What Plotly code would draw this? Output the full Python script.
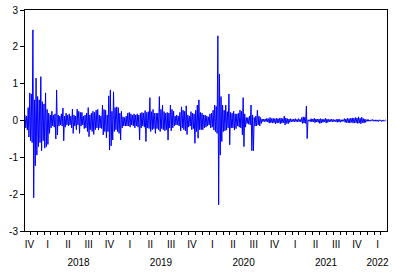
import pandas as pd
import plotly.graph_objects as go

# Weekly envelope: upper and lower swing of each week
week_start = "2017-11-06"
hi = [0.15,0.12,0.35,0.75,0.72,2.46,0.56,1.15,0.65,0.56,
      1.19,0.51,0.45,0.75,0.3,0.2,0.15,0.25,0.15,0.18,
      0.83,0.15,0.12,0.18,0.34,0.12,0.2,0.15,0.18,0.12,
      0.31,0.15,0.12,0.31,0.25,0.22,0.22,0.12,0.15,0.2,
      0.35,0.15,0.2,0.25,0.22,0.28,0.3,0.15,0.12,0.42,
      0.3,0.28,0.15,0.67,0.83,0.25,0.78,0.35,0.37,0.35,
      0.2,0.25,0.1,0.08,0.12,0.2,0.22,0.18,0.15,0.18,
      0.15,0.18,0.15,0.2,0.22,0.2,0.27,0.22,0.24,0.62,
      0.24,0.3,0.2,0.2,0.2,0.65,0.3,0.42,0.24,0.2,
      0.22,0.2,0.42,0.3,0.25,0.12,0.15,0.12,0.22,0.37,
      0.28,0.25,0.4,0.15,0.12,0.24,0.2,0.18,0.28,0.42,
      0.56,0.22,0.2,0.15,0.15,0.12,0.1,0.18,0.2,0.28,
      0.42,0.38,2.30,1.26,0.65,0.42,0.28,0.42,0.24,0.72,
      0.22,0.2,0.25,0.18,0.18,0.2,0.28,0.25,0.62,0.18,
      0.08,0.08,0.12,0.42,0.15,0.08,0.12,0.28,0.12,0.08,
      0.04,0.04,0.04,0.06,0.05,0.08,0.05,0.06,0.05,0.06,
      0.05,0.06,0.07,0.05,0.12,0.07,0.05,0.04,0.05,0.03,
      0.04,0.05,0.03,0.05,0.03,0.08,0.1,0.09,0.39,0.02,
      0.02,0.05,0.04,0.06,0.04,0.04,0.04,0.05,0.04,0.03,
      0.06,0.04,0.03,0.03,0.04,0.03,0.02,0.03,0.04,0.03,
      0.02,0.02,0.05,0.04,0.06,0.05,0.06,0.07,0.06,0.08,
      0.07,0.1,0.06,0.09,0.05,0.04,0.02,0.03,0.01,0.02,
      0.03,0.01,0.02,0.01,0.02,0.01,0.01,0.01,0.01]
lo = [-0.2,-0.26,-0.45,-0.55,-0.6,-2.10,-1.23,-0.94,-0.71,-0.6,
      -0.82,-0.55,-0.75,-0.71,-0.65,-0.35,-0.2,-0.15,-0.18,-0.5,
      -0.39,-0.15,-0.12,-0.15,-0.55,-0.18,-0.12,-0.15,-0.12,-0.2,
      -0.35,-0.15,-0.25,-0.12,-0.35,-0.15,-0.12,-0.22,-0.2,-0.3,
      -0.44,-0.25,-0.3,-0.38,-0.25,-0.2,-0.25,-0.2,-0.22,-0.39,
      -0.3,-0.47,-0.3,-0.8,-0.69,-0.53,-0.3,-0.25,-0.3,-0.35,
      -0.53,-0.2,-0.15,-0.15,-0.15,-0.15,-0.18,-0.12,-0.15,-0.2,
      -0.15,-0.18,-0.53,-0.2,-0.15,-0.18,-0.57,-0.2,-0.22,-0.3,
      -0.25,-0.22,-0.35,-0.22,-0.25,-0.3,-0.22,-0.25,-0.28,-0.25,
      -0.53,-0.2,-0.28,-0.2,-0.15,-0.12,-0.12,-0.15,-0.28,-0.2,
      -0.25,-0.28,-0.38,-0.18,-0.15,-0.25,-0.22,-0.62,-0.3,-0.48,
      -0.25,-0.25,-0.25,-0.2,-0.18,-0.15,-0.12,-0.2,-0.18,-0.26,
      -0.3,-0.35,-2.29,-0.94,-0.57,-0.3,-0.28,-0.26,-0.2,-0.66,
      -0.2,-0.2,-0.26,-0.22,-0.15,-0.18,-0.2,-0.39,-0.71,-0.18,
      -0.08,-0.1,-0.12,-0.82,-0.82,-0.15,-0.15,-0.12,-0.15,-0.08,
      -0.03,-0.03,-0.03,-0.04,-0.07,-0.06,-0.07,-0.06,-0.09,-0.07,
      -0.06,-0.09,-0.07,-0.06,-0.12,-0.08,-0.09,-0.05,-0.04,-0.03,
      -0.04,-0.03,-0.04,-0.03,-0.04,-0.08,-0.07,-0.08,-0.49,-0.02,
      -0.03,-0.04,-0.04,-0.06,-0.04,-0.05,-0.08,-0.07,-0.05,-0.04,
      -0.07,-0.05,-0.04,-0.03,-0.04,-0.03,-0.03,-0.05,-0.04,-0.05,
      -0.03,-0.02,-0.05,-0.06,-0.06,-0.07,-0.05,-0.07,-0.07,-0.06,
      -0.08,-0.07,-0.09,-0.06,-0.07,-0.05,-0.02,-0.02,-0.02,-0.01,
      -0.02,-0.02,-0.02,-0.03,-0.01,-0.03,-0.02,-0.01,-0.01]

# Axis labels
quarter_labels = ["IV", "I", "II", "III", "IV", "I", "II", "III", "IV",
                  "I", "II", "III", "IV", "I", "II", "III", "IV", "I"]
quarter_label_dates = ["2017-11-26", "2018-02-14", "2018-05-15", "2018-08-15", "2018-11-15",
                       "2019-02-14", "2019-05-15", "2019-08-15", "2019-11-15",
                       "2020-02-14", "2020-05-15", "2020-08-15", "2020-11-15",
                       "2021-02-14", "2021-05-15", "2021-08-15", "2021-11-15",
                       "2022-02-14"]
year_labels = ["2018", "2019", "2020", "2021", "2022"]
year_label_dates = ["2018-07-01", "2019-07-01", "2020-07-01", "2021-07-01", "2022-02-14"]
y_ticks = [-3, -2, -1, 0, 1, 2, 3]
x_range = ["2017-11-06", "2022-03-28"]

n = min(len(hi), len(lo))
starts = pd.date_range(week_start, periods=n, freq="7D")
xs, ys = [], []
for i in range(n):
    xs.append(starts[i])
    ys.append(hi[i])
    xs.append(starts[i] + pd.Timedelta(hours=84))
    ys.append(lo[i])

quarter_ticks = pd.date_range("2018-01-01", "2022-01-01", freq="QS")
month_ticks = pd.date_range("2017-12-01", "2022-03-01", freq="MS")

font = dict(family="Liberation Sans, Arial, sans-serif", size=10, color="#000000")

fig = go.Figure()
fig.add_trace(go.Scatter(x=xs, y=ys, mode="lines",
                         line=dict(color="#0000FF", width=1),
                         showlegend=False, hoverinfo="skip"))
# empty traces so that the label-only axes are drawn
fig.add_trace(go.Scatter(x=[], y=[], xaxis="x2", yaxis="y", showlegend=False, hoverinfo="skip"))
fig.add_trace(go.Scatter(x=[], y=[], xaxis="x3", yaxis="y", showlegend=False, hoverinfo="skip"))

fig.update_layout(
    width=403, height=274,
    margin=dict(l=25, r=16, t=10, b=43),
    paper_bgcolor="white", plot_bgcolor="white",
    font=font,
    showlegend=False,
    xaxis=dict(type="date", range=x_range, showgrid=False, zeroline=False, automargin=False,
               showline=True, linecolor="black", linewidth=1, mirror=True,
               tickmode="array", tickvals=list(quarter_ticks),
               ticktext=[""] * len(quarter_ticks),
               ticks="outside", ticklen=6, tickcolor="black", tickwidth=1,
               minor=dict(tickmode="array", tickvals=list(month_ticks),
                          ticks="outside", ticklen=3, tickcolor="black",
                          tickwidth=1, showgrid=False)),
    xaxis2=dict(type="date", range=x_range, overlaying="x", anchor="y", side="bottom",
                showgrid=False, zeroline=False, showline=False, automargin=False,
                tickmode="array", tickvals=quarter_label_dates, ticktext=quarter_labels,
                ticks="", ticklabelstandoff=6, tickfont=font),
    xaxis3=dict(type="date", range=x_range, overlaying="x", anchor="y", side="bottom",
                showgrid=False, zeroline=False, showline=False, automargin=False,
                tickmode="array", tickvals=year_label_dates, ticktext=year_labels,
                ticks="", ticklabelstandoff=24, tickfont=font),
    yaxis=dict(range=[-3, 3], tickmode="array", tickvals=y_ticks,
               ticktext=[str(v) for v in y_ticks], automargin=False,
               showgrid=False, zeroline=False,
               showline=True, linecolor="black", linewidth=1, mirror=True,
               ticks="outside", ticklen=4, tickcolor="black", tickwidth=1,
               tickfont=font),
)

fig.write_html("out.html", config={"displayModeBar": False, "staticPlot": True},
               post_script="document.body.style.margin='0px';")
